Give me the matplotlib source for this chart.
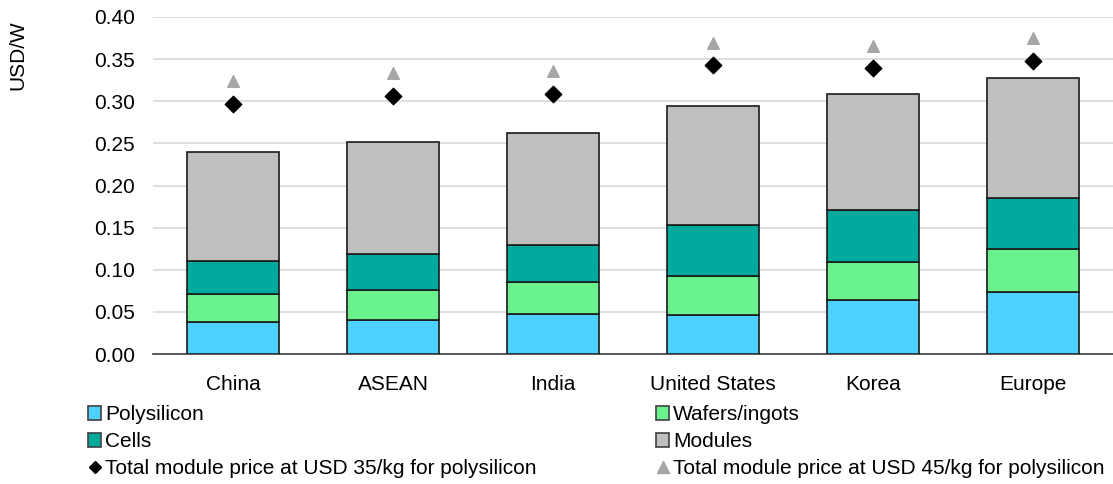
import numpy as np
import matplotlib.pyplot as plt
from matplotlib.lines import Line2D
from matplotlib.patches import Patch

plt.rcParams['font.family'] = ['Liberation Sans', 'DejaVu Sans']

regions = ['China', 'ASEAN', 'India', 'United States', 'Korea', 'Europe']
polysilicon = [0.038, 0.040, 0.047, 0.046, 0.064, 0.074]
wafers = [0.033, 0.036, 0.038, 0.047, 0.045, 0.051]
cells = [0.039, 0.043, 0.044, 0.060, 0.062, 0.060]
modules = [0.130, 0.133, 0.133, 0.141, 0.138, 0.143]
price_35 = [0.297, 0.306, 0.309, 0.343, 0.339, 0.348]
price_45 = [0.324, 0.334, 0.336, 0.369, 0.366, 0.375]

colors = ['#4DD2FF', '#6AF28E', '#00AA9C', '#BFBFBF']
names = ['Polysilicon', 'Wafers/ingots', 'Cells', 'Modules']

fig = plt.figure(figsize=(11.13, 4.84), dpi=100)
ax = fig.add_axes([153 / 1113, 1 - 354 / 484, 960 / 1113, 337 / 484])

x = np.arange(len(regions))
bottom = np.zeros(len(regions))
for vals, c in zip([polysilicon, wafers, cells, modules], colors):
    ax.bar(x, vals, 0.575, bottom=bottom, color=c, edgecolor='#1a1a1a', linewidth=1.2, zorder=3)
    bottom += np.array(vals)

ax.scatter(x, price_35, marker='D', s=70, color='black', zorder=4)
ax.scatter(x, price_45, marker='^', s=70, color='#A6A6A6', zorder=4)

ax.set_xlim(-0.5, len(regions) - 0.5)
ax.set_ylim(0, 0.40)
ax.set_yticks(np.arange(0, 0.401, 0.05))
ax.set_yticklabels([f'{v:.2f}' for v in np.arange(0, 0.401, 0.05)])
ax.set_xticks(x)
ax.set_xticklabels(regions)
ax.tick_params(axis='both', length=0, labelsize=15, colors='black')
ax.tick_params(axis='y', pad=13)
ax.tick_params(axis='x', pad=15)
ax.grid(axis='y', color='#D9D9D9', linewidth=1.2, zorder=0)
for s in ['left', 'right', 'top']:
    ax.spines[s].set_visible(False)
ax.spines['bottom'].set_color('#404040')
ax.spines['bottom'].set_linewidth(1.2)

fig.text(18 / 1113, 1 - 55 / 484, 'USD/W', rotation=90, ha='center', va='center', fontsize=15)

def sq(c):
    return Patch(facecolor=c, edgecolor='#404040', linewidth=1.2)

left_h = [sq(colors[0]), sq(colors[2]),
          Line2D([], [], marker='D', color='black', linestyle='', markersize=6)]
left_l = [names[0], names[2], 'Total module price at USD 35/kg for polysilicon']
right_h = [sq(colors[1]), sq(colors[3]),
           Line2D([], [], marker='^', color='#A6A6A6', linestyle='', markersize=8)]
right_l = [names[1], names[3], 'Total module price at USD 45/kg for polysilicon']

kw = dict(frameon=False, fontsize=15, handlelength=0.6, handleheight=0.6,
          handletextpad=0.2, labelspacing=0.38, borderpad=0, loc='upper left')
fig.legend(left_h, left_l, bbox_to_anchor=(78 / 1113, 1 - 395 / 484), **kw)
fig.legend(right_h, right_l, bbox_to_anchor=(646 / 1113, 1 - 395 / 484), **kw)

fig.savefig('out.png', dpi=100)
